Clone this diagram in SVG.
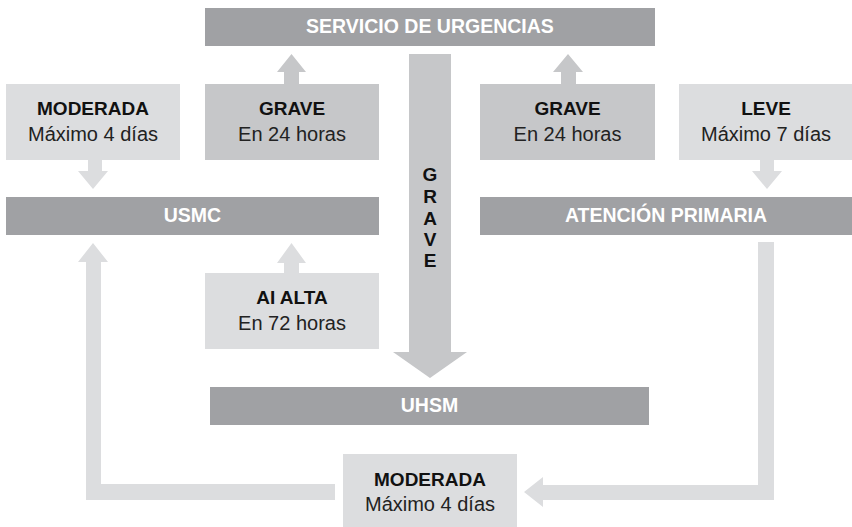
<svg xmlns="http://www.w3.org/2000/svg" width="852" height="527" viewBox="0 0 852 527">
<style>
.dark{fill:#a0a1a4}
.mid{fill:#c6c7c9}
.light{fill:#dcdddf}
.t{font-family:"Liberation Sans",Arial,sans-serif;font-size:19px;text-anchor:middle}
.w{fill:#ffffff;font-weight:bold;font-size:19.5px}
.b{fill:#111111;font-weight:bold}
.r{fill:#222222;font-size:20px}
</style>
<rect width="852" height="527" fill="#ffffff"/>
<g id="connectors">
  <polygon class="mid" points="284,84 284,72 277,72 291.5,54 306,72 299,72 299,84"/>
  <polygon class="mid" points="561,84 561,72 553,72 568,54 583,72 576,72 576,84"/>
  <polygon class="light" points="88,160 102,160 102,171 108,171 93,189 78,171 88,171"/>
  <polygon class="light" points="760,160 774,160 774,171 782,171 767,189 752,171 760,171"/>
  <polygon class="light" points="284,273 284,263 277,263 291.5,243 306,263 299,263 299,273"/>
  <polygon class="mid" points="409,54 451,54 451,352 467,352 430,378 393,352 409,352"/>
  <polygon class="light" points="335,484 335,500 86,500 86,262 78,262 93,243 108,262 101,262 101,484"/>
  <polygon class="light" points="758,242 774,242 774,500 543,500 543,507 524,492 543,477 543,485 758,485"/>
</g>
<g id="servicio"><rect class="dark" x="205" y="8" width="450" height="38"/><text class="t w" x="430" y="33">SERVICIO DE URGENCIAS</text></g>
<g id="moderada-top"><rect class="light" x="6" y="84" width="174" height="76"/><text class="t b" x="93" y="115">MODERADA</text><text class="t r" x="93" y="141">Máximo 4 días</text></g>
<g id="grave-left"><rect class="mid" x="205" y="84" width="174" height="76"/><text class="t b" x="292" y="115">GRAVE</text><text class="t r" x="292" y="141">En 24 horas</text></g>
<g id="grave-right"><rect class="mid" x="480" y="84" width="175" height="76"/><text class="t b" x="567.5" y="115">GRAVE</text><text class="t r" x="567.5" y="141">En 24 horas</text></g>
<g id="leve"><rect class="light" x="679" y="84" width="173" height="76"/><text class="t b" x="766" y="115">LEVE</text><text class="t r" x="766" y="141">Máximo 7 días</text></g>
<g id="usmc"><rect class="dark" x="6" y="197" width="373" height="38"/><text class="t w" x="192.5" y="222">USMC</text></g>
<g id="atencion"><rect class="dark" x="480" y="197" width="372" height="38"/><text class="t w" x="666" y="222">ATENCIÓN PRIMARIA</text></g>
<g id="grave-label"><text class="t b" x="430" y="181">G</text><text class="t b" x="430" y="203">R</text><text class="t b" x="430" y="225">A</text><text class="t b" x="430" y="246">V</text><text class="t b" x="430" y="267">E</text></g>
<g id="ai-alta"><rect class="light" x="205" y="273" width="174" height="76"/><text class="t b" x="292" y="304">AI ALTA</text><text class="t r" x="292" y="330">En 72 horas</text></g>
<g id="uhsm"><rect class="dark" x="210" y="387" width="439" height="38"/><text class="t w" x="429.5" y="412">UHSM</text></g>
<g id="moderada-bottom"><rect class="light" x="343" y="454" width="174" height="73"/><text class="t b" x="430" y="486">MODERADA</text><text class="t r" x="430" y="511">Máximo 4 días</text></g>
</svg>
